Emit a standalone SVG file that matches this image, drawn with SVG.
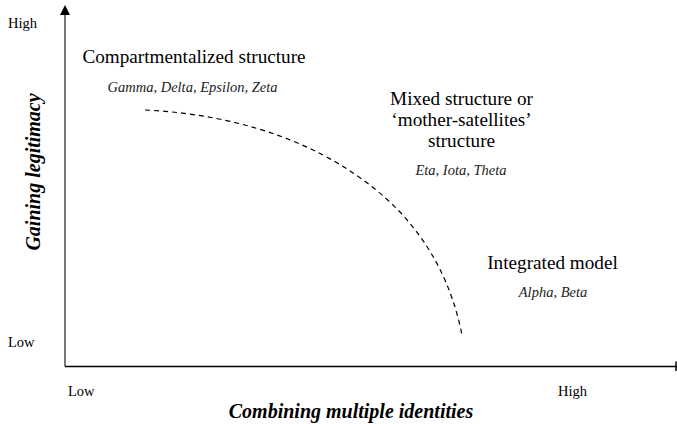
<svg xmlns="http://www.w3.org/2000/svg" width="677" height="424" viewBox="0 0 677 424">
<style>
.t{fill:#000;font-family:"Liberation Serif","Times New Roman",serif}
.h{font-size:19.2px}
.s{font-size:14.5px;font-style:italic;fill:#222}
.a{font-size:14.5px}
.b{font-size:20px;font-weight:bold;font-style:italic}
</style>
<rect width="677" height="424" fill="#fff"/>
<g id="connectors">
<line x1="65" y1="366.5" x2="65" y2="14" stroke="#555" stroke-width="1.6"/>
<polygon points="65,5 60,15 70,15" fill="#000"/>
<line x1="65" y1="366.5" x2="677" y2="366.5" stroke="#000" stroke-width="1.5"/>
<line x1="676" y1="361.5" x2="676" y2="371" stroke="#000" stroke-width="1.5"/>
<path d="M145,110 C250,115 340,150 400,212 C440,255 455,300 462,335" fill="none" stroke="#000" stroke-width="1.2" stroke-dasharray="5,4"/>
</g>
<g id="axis-labels">
<text class="t a" x="8" y="28">High</text>
<text class="t a" x="8" y="347">Low</text>
<text class="t a" x="68" y="396">Low</text>
<text class="t a" x="558" y="396">High</text>
<text class="t b" x="351" y="418" text-anchor="middle">Combining multiple identities</text>
<text class="t b" transform="translate(40,172) rotate(-90)" text-anchor="middle">Gaining legitimacy</text>
</g>
<g id="node-compartmentalized">
<text class="t h" x="194" y="63" text-anchor="middle">Compartmentalized structure</text>
<text class="t s" x="192.5" y="92" text-anchor="middle">Gamma, Delta, Epsilon, Zeta</text>
</g>
<g id="node-mixed">
<text class="t h" x="461.5" y="105" text-anchor="middle">Mixed structure or</text>
<text class="t h" x="461.5" y="126" text-anchor="middle">‘mother-satellites’</text>
<text class="t h" x="461.5" y="147" text-anchor="middle">structure</text>
<text class="t s" x="461" y="175" text-anchor="middle">Eta, Iota, Theta</text>
</g>
<g id="node-integrated">
<text class="t h" x="552.5" y="269" text-anchor="middle">Integrated model</text>
<text class="t s" x="553" y="297" text-anchor="middle">Alpha, Beta</text>
</g>
</svg>
